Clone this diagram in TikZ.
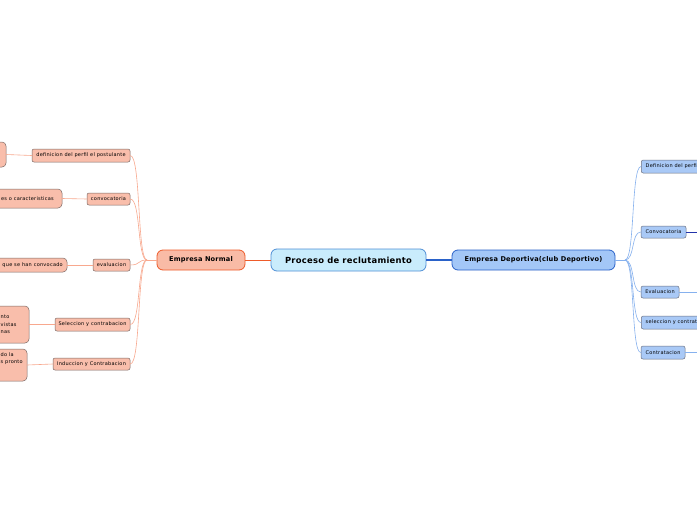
\documentclass[tikz,border=0pt]{standalone}
\usepackage{fontspec}
\setmainfont{DejaVu Sans}
\newfontfamily\smallsp[LetterSpace=5]{DejaVu Sans}
\newfontfamily\boldsp[LetterSpace=3]{DejaVu Sans}
\definecolor{cbg}{HTML}{C9ECFC}
\definecolor{cbd}{HTML}{4F8FD6}
\definecolor{enbg}{HTML}{F9BBA6}
\definecolor{enbd}{HTML}{EE5B2A}
\definecolor{salbg}{HTML}{F9BEAB}
\definecolor{salline}{HTML}{F8A88E}
\definecolor{gbd}{HTML}{7C6A66}
\definecolor{edbg}{HTML}{A3C7F7}
\definecolor{edbd}{HTML}{2A62C9}
\definecolor{bluebg}{HTML}{A9C9F6}
\definecolor{bluebd}{HTML}{6B7080}
\definecolor{blueline}{HTML}{86B1EE}
\definecolor{darkblue}{HTML}{2233AA}
\tikzset{
  central/.style={draw=cbd, fill=cbg, line width=0.8pt, rounded corners=6pt, minimum width=155pt, minimum height=22pt, inner sep=0pt, font=\boldsp\fontsize{8.4}{10}\selectfont\bfseries},
  mainL/.style={draw=enbd, fill=enbg, line width=0.8pt, rounded corners=6pt, minimum height=20pt, inner sep=0pt, font=\boldsp\fontsize{6.6}{8}\selectfont\bfseries},
  mainR/.style={draw=edbd, fill=edbg, line width=0.8pt, rounded corners=6pt, minimum height=20pt, inner sep=0pt, font=\boldsp\fontsize{6.6}{8}\selectfont\bfseries},
  subL/.style={draw=gbd, fill=salbg, line width=0.5pt, rounded corners=2pt, inner sep=0pt, font=\smallsp\fontsize{5}{6}\selectfont},
  subR/.style={draw=bluebd, fill=bluebg, line width=0.5pt, rounded corners=2pt, inner sep=0pt, font=\smallsp\fontsize{5}{6}\selectfont},
  leafL/.style={draw=gbd, fill=salbg, line width=0.5pt, rounded corners=4pt, inner sep=0pt},
  ltxt/.style={inner sep=0pt, font=\smallsp\fontsize{5}{7.4}\selectfont},
  brL/.style={draw=salline, line width=0.6pt},
  brR/.style={draw=blueline, line width=0.6pt},
}
\begin{document}
\begin{tikzpicture}[x=1pt,y=-1pt]
\useasboundingbox (0,0) rectangle (697,520);
\fill[white] (0,0) rectangle (697,520);
% central and mains
\node[central] (c) at (348.5,260) {Proceso de reclutamiento};
\node[mainL, minimum width=88pt] (en) at (201,260) {Empresa Normal};
\node[mainR, minimum width=163pt] (ed) at (533.5,260) {Empresa Deportiva(club Deportivo)};
\draw[draw=enbd, line width=1pt] (en.east) -- (c.west);
\draw[draw=edbd, line width=1.2pt] (c.east) -- (ed.west);
% left children
\node[subL, minimum width=98pt, minimum height=13pt] (l1) at (81,155.5) {definicion del perfil el postulante};
\node[subL, minimum width=43pt, minimum height=12pt] (l2) at (108.5,199) {convocatoria};
\node[subL, minimum width=37pt, minimum height=12pt] (l3) at (111.5,265) {evaluacion};
\node[subL, minimum width=75pt, minimum height=13pt] (l4) at (92.5,324.5) {Seleccion y contrabacion};
\node[subL, minimum width=77pt, minimum height=12pt] (l5) at (91.5,364) {Induccion y Contrabacion};
\coordinate (jl) at (147,260);
\draw[brL] (en.west) -- (jl);
\foreach \n in {l1,l2,l3,l4,l5}{
  \draw[brL] (jl) .. controls (137,260) and (141,0|-\n.east) .. (\n.east);
}
% left leaves
\node[leafL, minimum width=46pt, minimum height=25pt] (f1) at (-17,154.5) {};
\node[leafL, minimum width=112pt, minimum height=19pt] (f2) at (6,198.5) {};
\node[leafL, minimum width=117pt, minimum height=14pt] (f3) at (8.5,265) {};
\node[leafL, minimum width=79pt, minimum height=37pt] (f4) at (-10.5,324.5) {};
\node[leafL, minimum width=77pt, minimum height=32pt] (f5) at (-11.5,365) {};
\node[ltxt, anchor=east] (t2) at (54,198.5) {es o caracteristicas};
\node[ltxt, anchor=east] (t3) at (63,265) {que se han convocado};
\node[ltxt, anchor=west, align=left] (t4) at (0.5,324.5) {nto\\vistas\\nas};
\node[ltxt, anchor=north west, align=left] (t5) at (0.5,352.5) {do la\\s pronto};
\draw[brL] (f1.east) -- (l1.west);
\draw[brL] (f2.east) -- (l2.west);
\draw[brL] (f3.east) -- (l3.west);
\draw[brL] (f4.east) -- (l4.west);
\draw[brL] (f5.east) -- (l5.west);
% right children
\node[subR, minimum width=80pt, minimum height=13pt, anchor=west] (r1) at (641,166.5) {};
\node[ltxt, anchor=west] (r1t) at (645.5,166.5) {Definicion del perfil};
\node[subR, minimum width=45pt, minimum height=12pt] (r2) at (663.5,232) {Convocatoria};
\node[subR, minimum width=38pt, minimum height=12pt] (r3) at (660,292) {Evaluacion};
\node[subR, minimum width=90pt, minimum height=13pt, anchor=west] (r4) at (641,322.5) {};
\node[ltxt, anchor=west] (r4t) at (645.5,322.5) {seleccion y contratacion};
\node[subR, minimum width=44pt, minimum height=13pt] (r5) at (663,352.5) {Contratacion};
\coordinate (jr) at (625,260);
\draw[brR] (ed.east) -- (jr);
\foreach \n in {r1,r2,r3,r4,r5}{
  \draw[brR] (jr) .. controls (635,260) and (631,0|-\n.west) .. (\n.west);
}
\coordinate (e2) at (700,232);
\coordinate (e3) at (700,292);
\coordinate (e5) at (700,352.5);
\draw[draw=darkblue, line width=0.8pt] (r2.east) -- (e2);
\draw[brR] (r3.east) -- (e3);
\draw[brR] (r5.east) -- (e5);
\end{tikzpicture}
\end{document}
